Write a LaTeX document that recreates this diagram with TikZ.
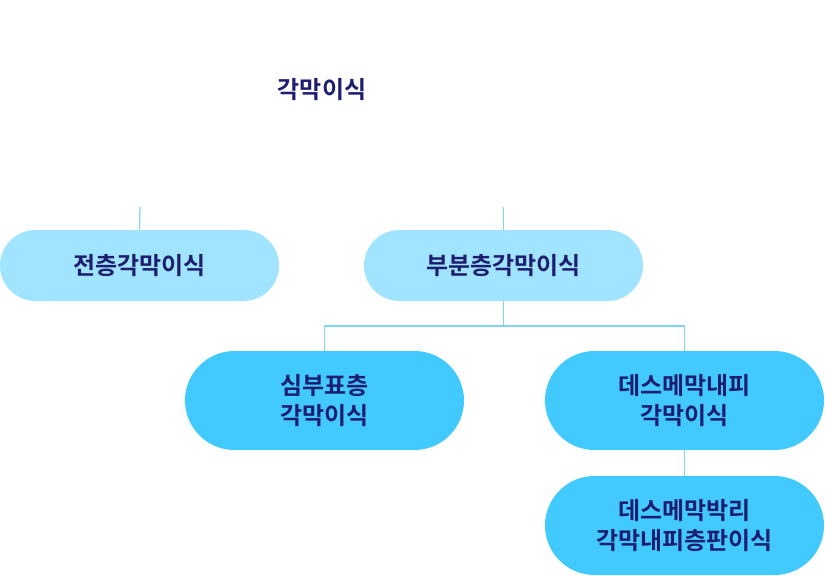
\documentclass[tikz,border=0pt]{standalone}
\usepackage{fontspec}
\setmainfont{Noto Sans CJK KR}[BoldFont={Noto Sans CJK KR Bold}]
\definecolor{navy}{HTML}{1E1E70}
\definecolor{pillA}{HTML}{A0E4FF}
\definecolor{pillB}{HTML}{42CAFF}
\definecolor{ln}{HTML}{7DD5F5}
\begin{document}
\begin{tikzpicture}[x=0.75pt,y=-0.75pt,
  pill/.style={rounded rectangle, minimum width=279*0.75pt, align=center, text=navy, font=\bfseries\fontsize{18}{22}\selectfont, inner sep=0pt},
  conn/.style={ln, line width=0.9pt}]
\usetikzlibrary{shapes.misc}
\useasboundingbox (0,0) rectangle (825,575);
\node[text=navy, font=\bfseries\fontsize{18}{22}\selectfont] (root) at (322,90) {각막이식};
\node[pill, fill=pillA, minimum height=71*0.75pt] (a) at (139.5,265.5) {전층각막이식};
\node[pill, fill=pillA, minimum height=71*0.75pt] (b) at (503.5,265.5) {부분층각막이식};
\node[pill, fill=pillB, minimum height=99*0.75pt] (c) at (324.5,400.5) {심부표층\\각막이식};
\node[pill, fill=pillB, minimum height=99*0.75pt] (d) at (684.5,400.5) {데스메막내피\\각막이식};
\node[pill, fill=pillB, minimum height=99*0.75pt] (e) at (684.5,525.5) {데스메막박리\\각막내피층판이식};
\coordinate (ta) at (140,207);
\coordinate (tb) at (503.5,207);
\draw[conn] (ta) -- (a.north);
\draw[conn] (tb) -- (b.north);
\coordinate (m) at (503.5,326);
\draw[conn] (b.south) -- (m);
\draw[conn] (m) -| (c.north);
\draw[conn] (m) -| (d.north);
\draw[conn] (d.south) -- (e.north);
\end{tikzpicture}
\end{document}
